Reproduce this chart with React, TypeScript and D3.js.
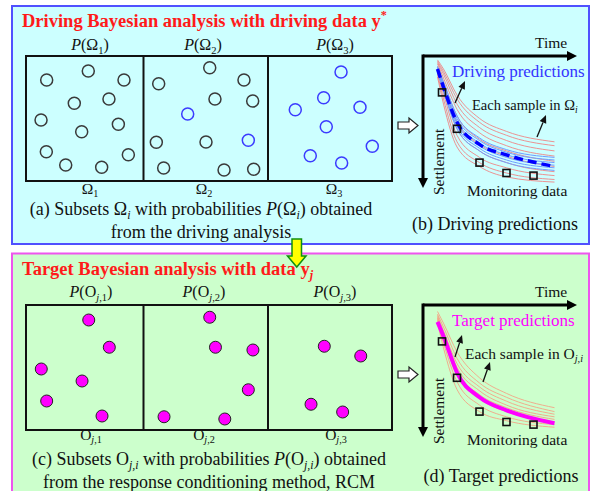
import React from "react";
import * as d3 from "d3";

// ---- data ----

// circles in the three driving subsets (x, y in 0..100 of each box)
const omega1 = [
  [17.6, 19.2], [53.0, 12.0], [83.4, 19.2], [41.1, 37.8], [70.6, 34.4], [12.8, 51.2],
  [47.4, 60.6], [78.6, 54.6], [17.3, 76.6], [33.8, 87.2], [64.4, 89.0], [87.1, 79.0],
];
const omega2 = [
  [12.2, 22.2], [53.2, 9.4], [80.7, 19.2], [57.4, 34.4], [87.7, 36.0], [10.3, 69.0],
  [50.2, 68.8], [16.2, 89.6], [64.7, 91.2], [88.5, 90.6],
];
const omega2Blue = [[35.5, 46.4], [84.2, 67.4]];
const omega3Blue = [
  [58.9, 12.8], [44.9, 33.4], [22.0, 43.0], [74.2, 41.0], [47.0, 56.6], [84.1, 72.2],
  [34.1, 79.8], [59.4, 85.6],
];

// filled samples of the target subsets
const target1 = [[53.4, 12.0], [70.9, 33.8], [13.0, 51.2], [47.7, 60.8], [17.6, 76.8], [64.7, 88.8]];
const target2 = [[53.2, 9.8], [57.8, 33.8], [87.9, 36.0], [84.2, 67.8], [16.5, 89.4], [65.3, 91.2]];
const target3 = [[45.4, 33.0], [74.8, 40.8], [34.7, 79.4], [60.2, 85.6]];

// settlement curves: values at the time grid (both in 0..100)
const timeGrid = [9, 13, 22, 37, 55, 87];
const drivingRed = [
  [3, 10, 30, 48, 58, 66],
  [4, 12, 33, 51, 61, 69],
  [5, 14, 37, 55, 65, 73],
  [6, 17, 41, 59, 69, 77],
  [8, 20, 46, 64, 73, 81],
  [9, 23, 51, 68, 77, 85],
  [11, 26, 56, 73, 82, 89],
  [12, 29, 61, 78, 86, 92],
  [14, 33, 66, 82, 90, 95],
  [16, 37, 70, 85, 93, 97],
];
const drivingBlue = [
  [8, 20, 46, 63, 72, 78],
  [9, 22, 48, 65, 74, 80],
  [9, 23, 50, 67, 76, 82],
  [10, 24, 52, 69, 78, 84],
  [11, 26, 54, 71, 80, 86],
  [12, 27, 56, 73, 82, 88],
];
const drivingMean = [10, 24, 51, 68, 76, 85];

const targetSamples = [
  [5, 14, 36, 56, 68, 79],
  [7, 17, 41, 60, 71, 82],
  [8, 20, 45, 63, 74, 84],
  [9, 22, 48, 66, 77, 86],
  [10, 24, 51, 69, 79, 88],
  [11, 26, 54, 72, 82, 90],
  [12, 29, 59, 77, 86, 92],
  [14, 33, 65, 82, 89, 94],
];
const targetMean = [13, 24, 52, 71, 81, 91];

const monitorTime = [12, 22, 37, 55, 73];
const monitorSettle = [28, 56, 82, 90, 92];

// ---- layout ----
const W = 591;
const H = 491;
const FONT = '"Liberation Serif", "Times New Roman", Times, "DejaVu Serif", serif';
const boxEdges = [26, 143.5, 268, 392];
const BOX_H = 125;
const CAP = 18;

type Seg = { t: string; it?: boolean; sub?: boolean; sup?: boolean };

function Rich({ x, y, segs, size, anchor = "start", fill = "#111", weight = "normal" }: any) {
  let off = 0;
  const kids = (segs as Seg[]).map((s, k) => {
    const target = s.sub ? size * 0.22 : s.sup ? -size * 0.42 : 0;
    const dy = target - off;
    off = target;
    return (
      <tspan key={k} dy={dy} fontSize={s.sub || s.sup ? size * 0.66 : size} fontStyle={s.it ? "italic" : "normal"}>
        {s.t}
      </tspan>
    );
  });
  return (
    <text x={x} y={y} fontSize={size} textAnchor={anchor} fill={fill} fontWeight={weight}
      style={{ whiteSpace: "pre", fontFamily: FONT }}>
      {kids}
    </text>
  );
}

function Txt({ children, ...rest }: any) {
  return (
    <text fill="#111" {...rest} style={{ fontFamily: FONT }}>
      {children}
    </text>
  );
}

function Boxes({ top, sets }: { top: number; sets: { pts: number[][]; kind: string }[][] }) {
  const y = d3.scaleLinear().domain([0, 100]).range([top, top + BOX_H]);
  return (
    <g>
      {sets.map((groups, i) => {
        const x = d3.scaleLinear().domain([0, 100]).range([boxEdges[i], boxEdges[i + 1]]);
        return (
          <g key={i}>
            {groups.map((g, j) =>
              g.pts.map((p, k) => (
                <circle key={j + "-" + k} cx={x(p[0])} cy={y(p[1])} r={6}
                  fill={g.kind === "fill" ? "#ff00ff" : "none"}
                  stroke={g.kind === "blue" ? "#3b3bff" : g.kind === "fill" ? "#222" : "#3a3a3a"}
                  strokeWidth={g.kind === "fill" ? 1 : 1.5} />
              ))
            )}
          </g>
        );
      })}
      <rect x={boxEdges[0]} y={top} width={boxEdges[3] - boxEdges[0]} height={BOX_H}
        fill="none" stroke="#111" strokeWidth={2} />
      {[1, 2].map((i) => (
        <line key={i} x1={boxEdges[i]} x2={boxEdges[i]} y1={top} y2={top + BOX_H} stroke="#111" strokeWidth={2} />
      ))}
    </g>
  );
}

function Arrow({ x1, y1, x2, y2 }: any) {
  const a = Math.atan2(y2 - y1, x2 - x1);
  const L = 8, w = 3.5;
  const bx = x2 - L * Math.cos(a), by = y2 - L * Math.sin(a);
  const pts = [
    [x2, y2],
    [bx + w * Math.sin(a), by - w * Math.cos(a)],
    [bx - w * Math.sin(a), by + w * Math.cos(a)],
  ];
  return (
    <g>
      <line x1={x1} y1={y1} x2={bx} y2={by} stroke="#111" strokeWidth={1.3} />
      <polygon points={pts.map((p) => p.join(",")).join(" ")} fill="#111" />
    </g>
  );
}

function Plot({ axisY, thin, blue, mean, meanColor, dashed, predLabel, labelColor, sampleSegs, arrows, caption }: any) {
  const tx = d3.scaleLinear().domain([0, 100]).range([424, 574]);
  const sy = d3.scaleLinear().domain([0, 100]).range([axisY, axisY + 130]);
  const line = d3.line<number>()
    .x((_, i) => tx(timeGrid[i]))
    .y((d) => sy(d))
    .curve(d3.curveMonotoneX);
  const ox = 423;
  return (
    <g>
      {/* hollow arrow into the plot */}
      <polygon points={`398,${axisY + 66} 409,${axisY + 66} 409,${axisY + 62} 418,${axisY + 69.5} 409,${axisY + 77} 409,${axisY + 73} 398,${axisY + 73}`}
        fill="#fff" stroke="#222" strokeWidth={1.2} />
      {/* axes */}
      <line x1={ox} y1={axisY} x2={569} y2={axisY} stroke="#000" strokeWidth={3} />
      <polygon points={`577,${axisY} 567,${axisY - 5} 567,${axisY + 5}`} fill="#000" />
      <line x1={ox} y1={axisY - 1.5} x2={ox} y2={axisY + 124} stroke="#000" strokeWidth={3} />
      <polygon points={`${ox},${axisY + 132} ${ox - 5},${axisY + 122} ${ox + 5},${axisY + 122}`} fill="#000" />
      <Txt x={535} y={axisY - 8} fontSize={15.5}>Time</Txt>
      <Txt transform={`translate(444,${axisY + 139}) rotate(-90)`} fontSize={15.5}>Settlement</Txt>

      {thin.curves.map((c: number[], i: number) => (
        <path key={"t" + i} d={line(c) || ""} fill="none" stroke={thin.color} strokeWidth={1} strokeOpacity={0.85} />
      ))}
      {blue.map((c: number[], i: number) => (
        <path key={"b" + i} d={line(c) || ""} fill="none" stroke="#6f9dff" strokeWidth={1} />
      ))}
      <path d={line(mean) || ""} fill="none" stroke={meanColor} strokeWidth={dashed ? 3.5 : 4}
        strokeDasharray={dashed ? "9 5" : undefined} />
      {monitorTime.map((t, i) => (
        <rect key={"m" + i} x={tx(t) - 3.5} y={sy(monitorSettle[i]) - 3.5} width={7} height={7}
          fill="none" stroke="#111" strokeWidth={1.6} />
      ))}

      <Txt x={452} y={axisY + 21} fontSize={17} fill={labelColor}>{predLabel}</Txt>
      <Rich x={sampleSegs.x} y={axisY + 54} size={sampleSegs.size} segs={sampleSegs.segs} />
      <Txt x={467} y={axisY + 140} fontSize={15.5}>Monitoring data</Txt>
      {arrows.map((a: number[], i: number) => (
        <Arrow key={i} x1={a[0]} y1={axisY + a[1]} x2={a[2]} y2={axisY + a[3]} />
      ))}
      <Txt x={caption.x} y={axisY + caption.dy} fontSize={CAP} textAnchor="middle">{caption.t}</Txt>
    </g>
  );
}

export default function App() {
  return (
    <svg width={W} height={H} style={{ position: "absolute", left: 0, top: 0, background: "#fff" }}>
      {/* panels */}
      <rect x={12} y={6} width={577} height={238} fill="#ccffff" stroke="#5050ff" strokeWidth={2} />
      <rect x={12} y={253.5} width={577} height={250} fill="#ccffcc" stroke="#ee55ee" strokeWidth={2} />

      {/* ---- driving analysis ---- */}
      <Rich x={22} y={27} size={18.5} weight="bold" fill="#ff1a1a"
        segs={[{ t: "Driving Bayesian analysis with driving data y" }, { t: "*", sup: true }]} />
      {[90, 203, 335].map((cx, i) => (
        <Rich key={i} x={cx} y={50} size={16} anchor="middle"
          segs={[{ t: "P", it: true }, { t: "(Ω" }, { t: String(i + 1), sub: true }, { t: ")" }]} />
      ))}
      <Boxes top={56} sets={[
        [{ pts: omega1, kind: "open" }],
        [{ pts: omega2, kind: "open" }, { pts: omega2Blue, kind: "blue" }],
        [{ pts: omega3Blue, kind: "blue" }],
      ]} />
      {[90, 204, 334].map((cx, i) => (
        <Rich key={i} x={cx} y={194} size={15.5} anchor="middle"
          segs={[{ t: "Ω" }, { t: String(i + 1), sub: true }]} />
      ))}
      <Rich x={201} y={215} size={CAP} anchor="middle" segs={[
        { t: "(a) Subsets Ω" }, { t: "i", sub: true, it: true }, { t: " with probabilities " },
        { t: "P", it: true }, { t: "(Ω" }, { t: "i", sub: true, it: true }, { t: ") obtained" },
      ]} />
      <Txt x={201} y={237.5} fontSize={CAP} textAnchor="middle">from the driving analysis</Txt>

      <Plot axisY={56} thin={{ curves: drivingRed, color: "#f07f7f" }} blue={drivingBlue} mean={drivingMean}
        meanColor="#0000ff" dashed labelColor="#3333ff"
        predLabel="Driving predictions"
        sampleSegs={{ x: 472, size: 14.5, segs: [{ t: "Each sample in Ω" }, { t: "i", sub: true, it: true }] }}
        arrows={[[455, 47, 465, 25], [537, 81, 546, 59]]}
        caption={{ x: 495, dy: 174, t: "(b) Driving predictions" }} />

      {/* ---- target analysis ---- */}
      <Rich x={22} y={275} size={18.5} weight="bold" fill="#ff1a1a"
        segs={[{ t: "Target Bayesian analysis with data y" }, { t: "j", sub: true, it: true }]} />
      {[91, 204, 335].map((cx, i) => (
        <Rich key={i} x={cx} y={297} size={16} anchor="middle"
          segs={[{ t: "P", it: true }, { t: "(O" }, { t: "j", sub: true, it: true }, { t: "," + (i + 1), sub: true }, { t: ")" }]} />
      ))}
      <Boxes top={305} sets={[
        [{ pts: target1, kind: "fill" }],
        [{ pts: target2, kind: "fill" }],
        [{ pts: target3, kind: "fill" }],
      ]} />
      {[91, 204, 336].map((cx, i) => (
        <Rich key={i} x={cx} y={440} size={15.5} anchor="middle"
          segs={[{ t: "O" }, { t: "j", sub: true, it: true }, { t: "," + (i + 1), sub: true }]} />
      ))}
      <Rich x={209} y={465} size={CAP} anchor="middle" segs={[
        { t: "(c) Subsets O" }, { t: "j,i", sub: true, it: true }, { t: " with probabilities " },
        { t: "P", it: true }, { t: "(O" }, { t: "j,i", sub: true, it: true }, { t: ") obtained" },
      ]} />
      <Txt x={209} y={487.5} fontSize={CAP} textAnchor="middle">from the response conditioning method, RCM</Txt>

      <Plot axisY={305} thin={{ curves: targetSamples, color: "#f4a083" }} blue={[]} mean={targetMean}
        meanColor="#ff00ff" dashed={false} labelColor="#ff00ff"
        predLabel="Target predictions"
        sampleSegs={{ x: 465, size: 15.5, segs: [{ t: "Each sample in O" }, { t: "j,i", sub: true, it: true }] }}
        arrows={[[455, 52, 462, 30], [483, 77, 490, 57]]}
        caption={{ x: 501, dy: 177, t: "(d) Target predictions" }} />

      {/* yellow block arrow between the panels */}
      <polygon points="292,239 301.5,239 301.5,256 306,256 296.75,267 287.5,256 292,256"
        fill="#ffff00" stroke="#109010" strokeWidth={1.5} />
    </svg>
  );
}
